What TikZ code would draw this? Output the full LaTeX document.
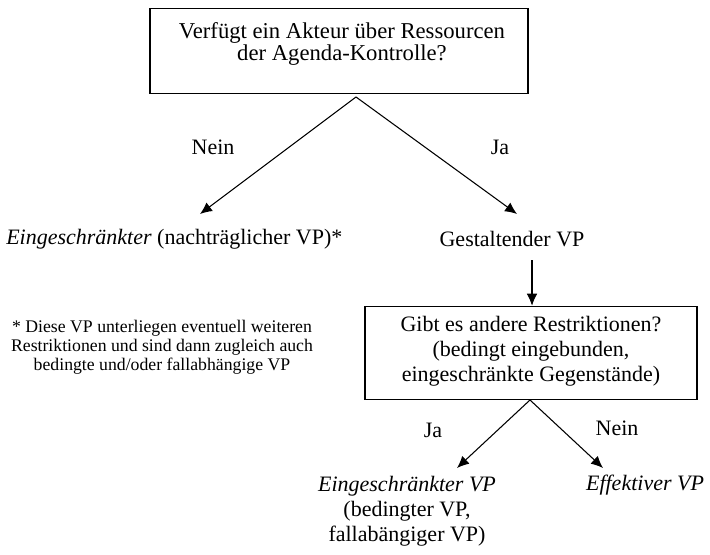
\documentclass[tikz,border=0pt]{standalone}
\usepackage{fontspec}
\setmainfont{Liberation Serif}
\usetikzlibrary{arrows.meta}
\begin{document}
\begin{tikzpicture}[x=0.75pt,y=-0.75pt,
  txt/.style={inner sep=0pt,align=center,font=\fontsize{16.5}{18.75}\selectfont},
  foot/.style={inner sep=0pt,align=center,font=\fontsize{13.3}{14.2}\selectfont},
  box/.style={draw,line width=1.2pt,inner sep=0pt},
  arr/.style={line width=0.8pt,-{Latex[length=9pt,width=8pt]}}]
\useasboundingbox (0,0) rectangle (710,554);
% top question
\node[box,minimum width=283.5pt,minimum height=63.75pt] (q1) at (339,51) {};
\node[txt,font=\fontsize{17}{16.5}\selectfont,anchor=north] (q1t) at (342,22) {Verfügt ein Akteur über Ressourcen\\der Agenda-Kontrolle?};
\coordinate (a1) at (356,97);
% level 2
\node[txt,anchor=west] (ein1) at (6,239) {\textit{Eingeschränkter} (nachträglicher VP)*};
\node[txt] (gest) at (512,239) {Gestaltender VP};
\coordinate (t1) at (200,214);
\coordinate (t2) at (517,214);
\draw[arr] (a1) -- (t1);
\draw[arr] (a1) -- (t2);
\node[txt] (nein1) at (213,147) {Nein};
\node[txt] (ja1) at (500,147) {Ja};
% footnote
\node[foot] (fn) at (162,347) {* Diese VP unterliegen eventuell weiteren\\Restriktionen und sind dann zugleich auch\\bedingte und/oder fallabhängige VP};
% second question
\node[box,minimum width=249pt,minimum height=69.75pt] (q2) at (531,353) {};
\node[txt] (q2t) at (531,351) {Gibt es andere Restriktionen?\\(bedingt eingebunden,\\eingeschränkte Gegenstände)};
\coordinate (d1) at (532,260);
\draw[arr] (d1) -- (q2.north -| d1);
\coordinate (a2) at (530,400);
\coordinate (t3) at (457,468);
\coordinate (t4) at (603,468);
\draw[arr] (a2) -- (t3);
\draw[arr] (a2) -- (t4);
\node[txt] (ja2) at (433,430) {Ja};
\node[txt] (nein2) at (617,428) {Nein};
% bottom
\node[txt,anchor=north] (ein2) at (407,476) {\textit{Eingeschränkter VP}\\(bedingter VP,\\fallabängiger VP)};
\node[txt] (eff) at (645,485) {\textit{Effektiver VP}};
\end{tikzpicture}
\end{document}
